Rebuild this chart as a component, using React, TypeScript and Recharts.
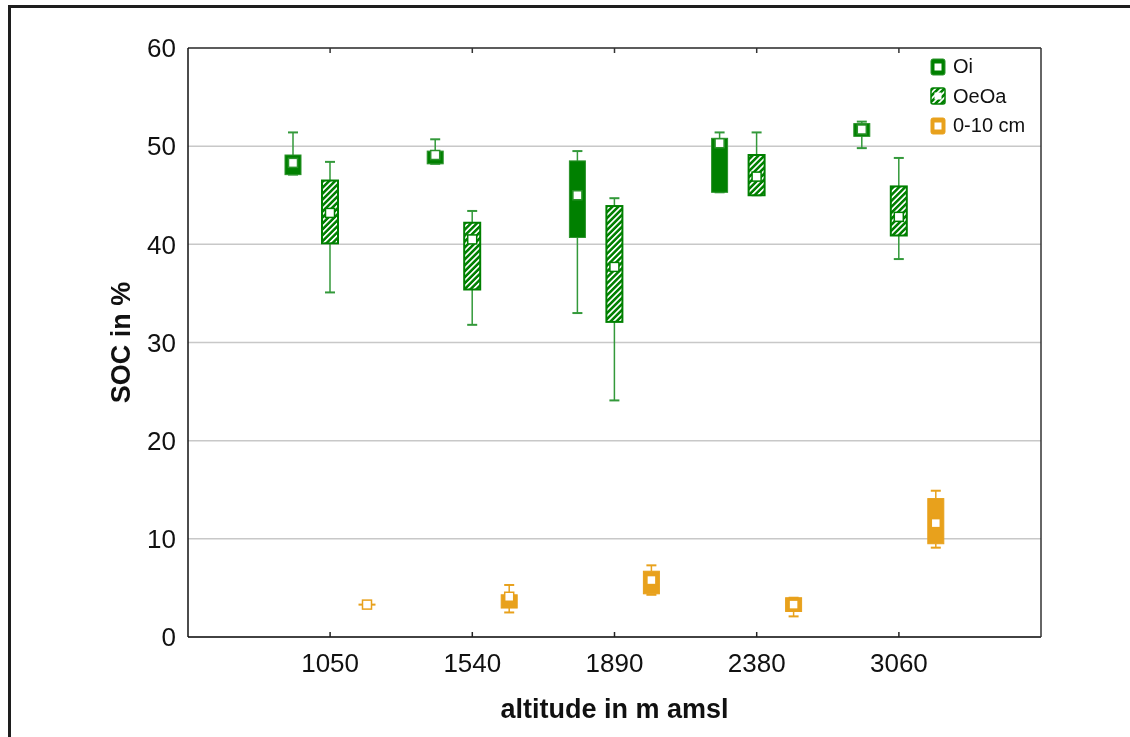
import React from "react";
import { BarChart, Bar, XAxis, YAxis, CartesianGrid, Legend } from "recharts";

// altitude classes on the x axis
const altitudes = ["1050", "1540", "1890", "2380", "3060"];

// each entry: [whisker low, box low, mean, box high, whisker high] in SOC %
const oiStats = [
  [47.1, 47.1, 48.3, 49.1, 51.4],
  [48.2, 48.2, 49.1, 49.5, 50.7],
  [33.0, 40.7, 45.0, 48.5, 49.5],
  [45.3, 45.3, 50.3, 50.8, 51.4],
  [49.8, 51.0, 51.7, 52.3, 52.5],
];
const oeoaStats = [
  [35.1, 40.1, 43.2, 46.5, 48.4],
  [31.8, 35.4, 40.5, 42.2, 43.4],
  [24.1, 32.1, 37.7, 43.9, 44.7],
  [45.0, 45.0, 46.9, 49.1, 51.4],
  [38.5, 40.9, 42.8, 45.9, 48.8],
];
const topsoilStats = [
  [3.25, 3.25, 3.3, 3.35, 3.35],
  [2.5, 2.95, 4.1, 4.3, 5.3],
  [4.3, 4.4, 5.8, 6.7, 7.3],
  [2.1, 2.6, 3.3, 4.0, 4.0],
  [9.1, 9.5, 11.6, 14.1, 14.9],
];

const yTicks = [0, 10, 20, 30, 40, 50, 60];
const yDomain = [0, 60];

const GREEN = "#008000";
const ORANGE = "#e8a11c";
const FONT = "'Liberation Sans', Arial, sans-serif";

const series = [
  { key: "oi", name: "Oi", stats: oiStats, fill: GREEN, stroke: "#2a922a", whisker: "#33993a" },
  { key: "oeoa", name: "OeOa", stats: oeoaStats, fill: "url(#hatch)", stroke: GREEN, whisker: "#33993a" },
  { key: "topsoil", name: "0-10 cm", stats: topsoilStats, fill: ORANGE, stroke: ORANGE, whisker: ORANGE },
];

// une ligne par altitude, avec les stats de chaque série
const chartData = altitudes.map((alt, i) => {
  const row: any = { altitude: alt };
  series.forEach((s) => {
    row[s.key] = s.stats[i];
  });
  return row;
});

const BoxShape = (props: any) => {
  const { x, y, width, height, background, payload, s } = props;
  const [lo, q1, mean, q3, hi] = payload[s.key];
  let toPx: (v: number) => number;
  if (background && background.height) {
    toPx = (v) => background.y + background.height * (1 - (v - yDomain[0]) / (yDomain[1] - yDomain[0]));
  } else {
    const k = height / (q3 - q1);
    toPx = (v) => y + (q3 - v) * k;
  }
  const cx = x + width / 2;
  const capW = 10;
  const yHi = toPx(hi);
  const yLo = toPx(lo);
  const yMean = toPx(mean);
  const m = 9;
  return (
    <g>
      <line x1={cx} x2={cx} y1={yHi} y2={y} stroke={s.whisker} strokeWidth={1.5} />
      <line x1={cx} x2={cx} y1={y + height} y2={yLo} stroke={s.whisker} strokeWidth={1.5} />
      <line x1={cx - capW / 2} x2={cx + capW / 2} y1={yHi} y2={yHi} stroke={s.whisker} strokeWidth={2} />
      <line x1={cx - capW / 2} x2={cx + capW / 2} y1={yLo} y2={yLo} stroke={s.whisker} strokeWidth={2} />
      <rect
        x={x}
        y={y}
        width={width}
        height={Math.max(height, 0.5)}
        fill={s.fill}
        stroke={s.stroke}
        strokeWidth={s.key === "oeoa" ? 2 : 1}
      />
      <rect x={cx - m / 2} y={yMean - m / 2} width={m} height={m} fill="#fff" stroke={s.stroke} strokeWidth={1.5} />
    </g>
  );
};

const BottomTick = (props: any) => {
  const { x, y, payload } = props;
  return (
    <g>
      <line x1={x} x2={x} y1={y} y2={y - 5} stroke="#222" strokeWidth={1.5} />
      <text x={x} y={y + 35} textAnchor="middle" fontSize={26} fontFamily={FONT} fill="#111">
        {payload.value}
      </text>
    </g>
  );
};

const TopTick = (props: any) => {
  const { x, y } = props;
  return <line x1={x} x2={x} y1={y} y2={y + 5} stroke="#333" strokeWidth={1.5} />;
};

const RightTick = (props: any) => {
  const { x, y, payload } = props;
  if (payload.value === 0 || payload.value === 60) return <g />;
  return <line x1={x} x2={x - 4} y1={y} y2={y} stroke="#333" strokeWidth={1.5} />;
};

const LegendIcon = ({ s }: { s: any }) => (
  <svg width={16} height={18} style={{ display: "block" }}>
    <rect
      x={1}
      y={1}
      width={14}
      height={16}
      rx={2}
      fill={s.fill}
      stroke={s.stroke}
      strokeWidth={s.key === "oeoa" ? 1.5 : 1}
    />
    <rect x={4.5} y={5.5} width={7} height={7} fill="#fff" />
  </svg>
);

const renderLegend = () => (
  <div style={{ fontFamily: FONT }}>
    {series.map((s) => (
      <div key={s.key} style={{ display: "flex", alignItems: "center", height: 29.5 }}>
        <LegendIcon s={s} />
        <span style={{ marginLeft: 7, fontSize: 20, color: "#111" }}>{s.name}</span>
      </div>
    ))}
  </div>
);

export default function App() {
  return (
    <div>
      <style>{"html, body { overflow: hidden; }"}</style>
      {/* cadre extérieur */}
      <div
        style={{
          position: "fixed",
          left: 8,
          top: 5,
          width: 1130,
          height: 740,
          borderTop: "3px solid #1e1e1e",
          borderLeft: "3px solid #1e1e1e",
          boxSizing: "border-box",
        }}
      />
      <div style={{ position: "fixed", left: 11, top: 8 }}>
        <BarChart
          width={1119}
          height={729}
          data={chartData}
          margin={{ top: 39, right: 88, bottom: 40, left: 0 }}
          barSize={16}
          barGap={21}
          style={{ fontFamily: FONT }}
        >
          <defs>
            <pattern id="hatch" width="4.2" height="4.2" patternUnits="userSpaceOnUse" patternTransform="rotate(45)">
              <rect width="4.2" height="4.2" fill={GREEN} />
              <rect x="0" width="1.7" height="4.2" fill="#fff" />
            </pattern>
          </defs>
          <CartesianGrid vertical={false} stroke="#c8c8c8" strokeWidth={1.5} />
          <XAxis
            dataKey="altitude"
            padding={{ left: 71, right: 71 }}
            height={60}
            tickSize={0}
            tickMargin={0}
            tickLine={false}
            axisLine={{ stroke: "#111", strokeWidth: 1.5 }}
            tick={<BottomTick />}
            interval={0}
            label={{
              value: "altitude in m amsl",
              position: "bottom",
              offset: 2,
              style: { fontSize: 27, fontWeight: "bold", fill: "#111", fontFamily: FONT },
            }}
          />
          <XAxis
            xAxisId="top"
            orientation="top"
            dataKey="altitude"
            padding={{ left: 71, right: 71 }}
            height={1}
            tickSize={0}
            tickMargin={0}
            tickLine={false}
            axisLine={{ stroke: "#333", strokeWidth: 1.5 }}
            tick={<TopTick />}
            interval={0}
          />
          <YAxis
            domain={yDomain}
            ticks={yTicks}
            width={177}
            tickSize={0}
            tickMargin={12}
            tickLine={false}
            axisLine={{ stroke: "#111", strokeWidth: 1.5 }}
            tick={{ fontSize: 26, fill: "#111", fontFamily: FONT }}
            label={{
              value: "SOC in %",
              angle: -90,
              position: "insideLeft",
              offset: 109,
              style: { textAnchor: "middle", fontSize: 27, fontWeight: "bold", fill: "#111", fontFamily: FONT },
            }}
          />
          <YAxis
            yAxisId="right"
            orientation="right"
            domain={yDomain}
            ticks={yTicks}
            width={1}
            tickSize={0}
            tickMargin={0}
            tickLine={false}
            axisLine={{ stroke: "#333", strokeWidth: 1.5 }}
            tick={<RightTick />}
          />
          <Legend
            layout="vertical"
            align="center"
            verticalAlign="middle"
            content={renderLegend}
            wrapperStyle={{ left: 919, top: 44, width: 150 }}
          />
          {series.map((s) => (
            <Bar
              key={s.key}
              name={s.name}
              dataKey={(d: any) => [d[s.key][1], d[s.key][3]]}
              fill={s.fill}
              isAnimationActive={false}
              shape={(p: any) => <BoxShape {...p} s={s} />}
            />
          ))}
        </BarChart>
      </div>
    </div>
  );
}
